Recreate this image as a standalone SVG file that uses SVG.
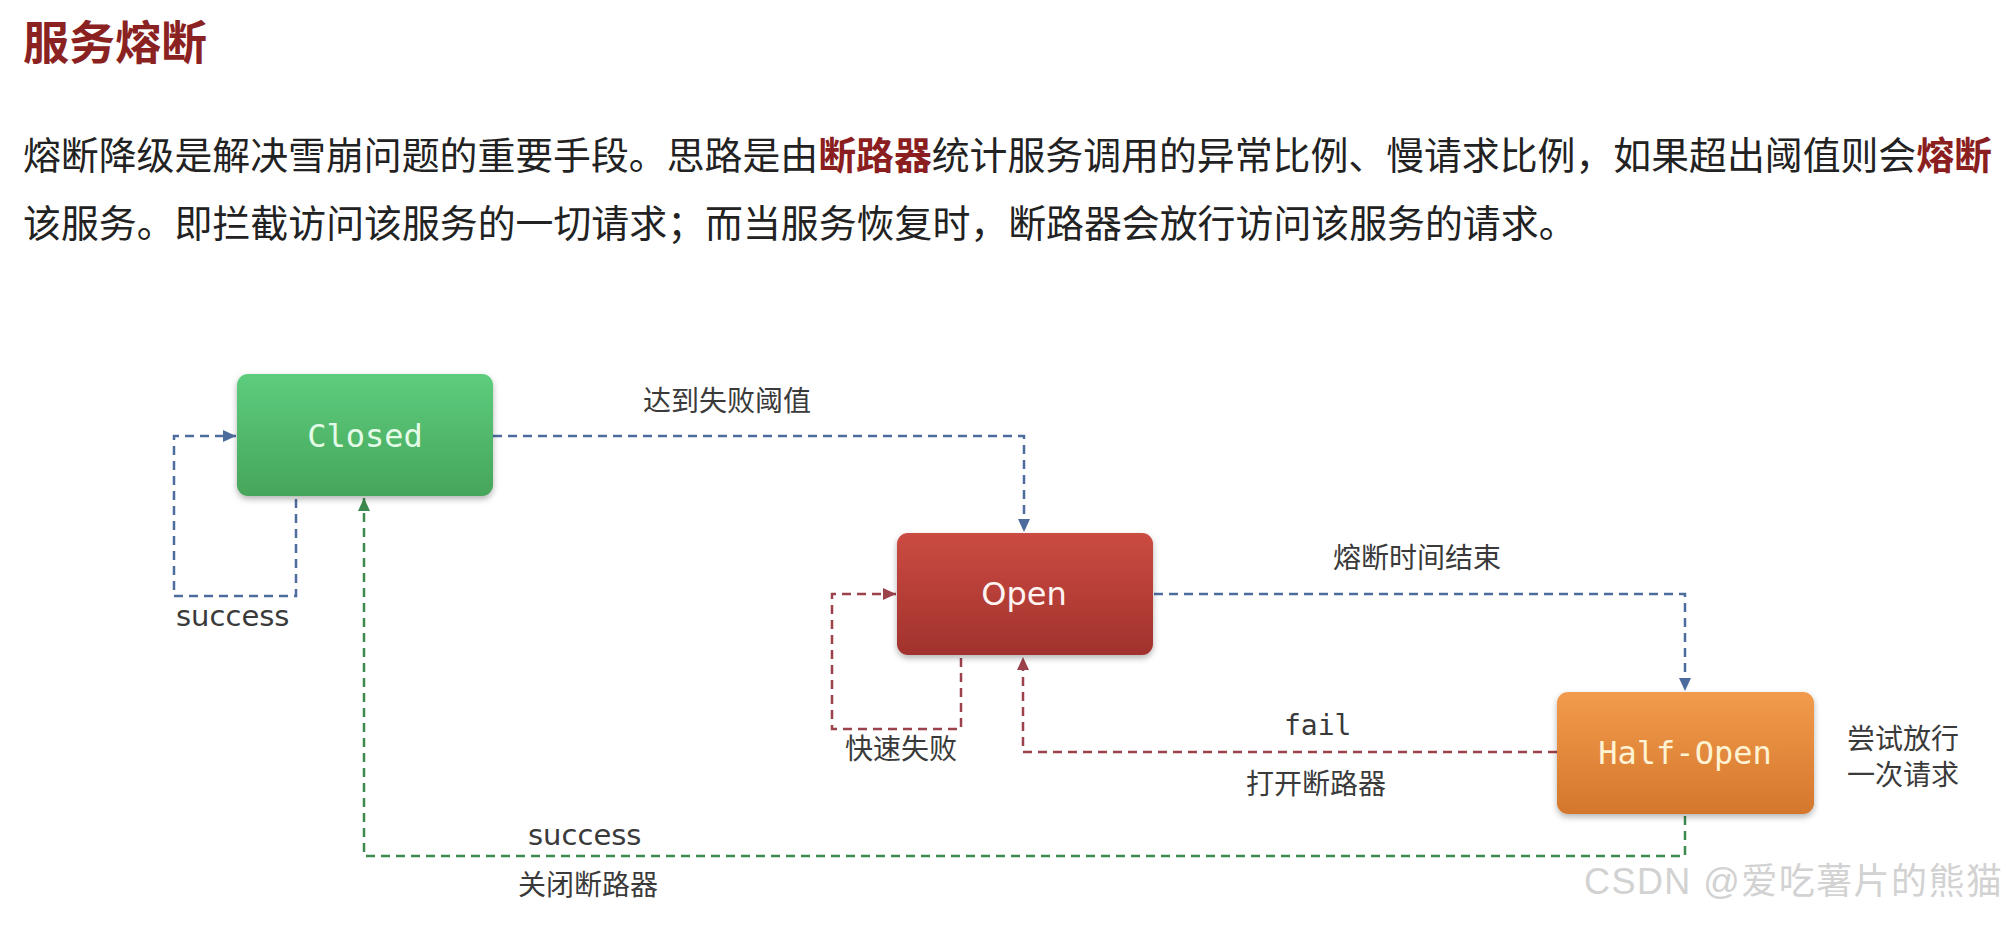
<svg xmlns="http://www.w3.org/2000/svg" width="2011" height="934" viewBox="0 0 2011 934">
<style>
.cn{font-family:"Noto Sans CJK SC","Noto Sans",sans-serif}
.body{font-size:37.9px;fill:#222}
.hl{font-weight:bold;fill:#8b1e1e}
.lbl{font-family:"Noto Sans CJK SC","Noto Sans",sans-serif;font-size:28px;fill:#3a3a3a}
.en{font-family:"DejaVu Sans",sans-serif;font-size:29px;fill:#3a3a3a}
.mono{font-family:"DejaVu Sans Mono",monospace}
.conn path{fill:none;stroke-width:2.5;stroke-dasharray:9 6}
.blue{stroke:#4d6c9e}
.red{stroke:#9c424b}
.green{stroke:#3c8a4e}
.boxlbl{font-size:32px;text-anchor:middle}
</style>
<defs>
<linearGradient id="gG" x1="0" y1="0" x2="0" y2="1"><stop offset="0" stop-color="#5dcd7d"/><stop offset="1" stop-color="#46a55a"/></linearGradient>
<linearGradient id="gR" x1="0" y1="0" x2="0" y2="1"><stop offset="0" stop-color="#cb4b42"/><stop offset="1" stop-color="#a1322d"/></linearGradient>
<linearGradient id="gO" x1="0" y1="0" x2="0" y2="1"><stop offset="0" stop-color="#f29b4c"/><stop offset="1" stop-color="#d4772d"/></linearGradient>
<filter id="sh" x="-10%" y="-10%" width="120%" height="130%"><feDropShadow dx="0" dy="3" stdDeviation="3" flood-color="#000" flood-opacity="0.3"/></filter>
<marker id="aB" markerUnits="userSpaceOnUse" markerWidth="14" markerHeight="12" refX="13" refY="6" orient="auto"><path d="M0,0 L13,6 L0,12 z" fill="#4d6c9e"/></marker>
<marker id="aR" markerUnits="userSpaceOnUse" markerWidth="14" markerHeight="12" refX="13" refY="6" orient="auto"><path d="M0,0 L13,6 L0,12 z" fill="#9c424b"/></marker>
<marker id="aG" markerUnits="userSpaceOnUse" markerWidth="14" markerHeight="12" refX="13" refY="6" orient="auto"><path d="M0,0 L13,6 L0,12 z" fill="#3c8a4e"/></marker>
</defs>
<rect width="2011" height="934" fill="#fff"/>
<text x="23" y="59" class="cn" font-size="46" font-weight="bold" fill="#8b2222">服务熔断</text>
<text x="23" y="169" class="cn body" textLength="1969" lengthAdjust="spacing">熔断降级是解决雪崩问题的重要手段。思路是由<tspan class="hl">断路器</tspan>统计服务调用的异常比例、慢请求比例，如果超出阈值则会<tspan class="hl">熔断</tspan></text>
<text x="23" y="237" class="cn body">该服务。即拦截访问该服务的一切请求；而当服务恢复时，断路器会放行访问该服务的请求。</text>
<g class="conn" id="connectors">
<path class="blue" d="M296,499 V596 H174 V436 H236" marker-end="url(#aB)"/>
<path class="blue" d="M493,436 H1024 V532" marker-end="url(#aB)"/>
<path class="red" d="M961,658 V729 H832 V594 H896" marker-end="url(#aR)"/>
<path class="blue" d="M1154,594 H1685 V691" marker-end="url(#aB)"/>
<path class="red" d="M1557,752 H1023 V657" marker-end="url(#aR)"/>
<path class="green" d="M1685,816 V856 H364 V498" marker-end="url(#aG)"/>
</g>
<g id="closed">
<rect x="237" y="374" width="256" height="122" rx="11" fill="url(#gG)" filter="url(#sh)"/>
<text x="365" y="447" class="mono boxlbl" fill="#e4fbe8">Closed</text>
</g>
<g id="open">
<rect x="897" y="533" width="256" height="122" rx="11" fill="url(#gR)" filter="url(#sh)"/>
<text x="1024" y="605" class="boxlbl" font-family="DejaVu Sans,sans-serif" font-size="30" fill="#fff4f2">Open</text>
</g>
<g id="halfopen">
<rect x="1557" y="692" width="257" height="122" rx="11" fill="url(#gO)" filter="url(#sh)"/>
<text x="1685" y="764" class="mono boxlbl" fill="#fff3d4">Half-Open</text>
</g>
<g id="labels">
<text x="643" y="411" class="lbl">达到失败阈值</text>
<text x="176" y="626" class="en">success</text>
<text x="845" y="759" class="lbl">快速失败</text>
<text x="1333" y="568" class="lbl">熔断时间结束</text>
<text x="1284" y="735" class="mono" font-size="28" fill="#3a3a3a">fail</text>
<text x="1246" y="794" class="lbl">打开断路器</text>
<text x="1847" y="749" class="lbl">尝试放行</text>
<text x="1847" y="785" class="lbl">一次请求</text>
<text x="528" y="845" class="en">success</text>
<text x="518" y="895" class="lbl">关闭断路器</text>
</g>
<text x="1584" y="894" font-family="Liberation Sans,Noto Sans CJK SC,sans-serif" font-size="36" fill="#d2d2d2" textLength="418" lengthAdjust="spacing">CSDN @爱吃薯片的熊猫</text>
</svg>
